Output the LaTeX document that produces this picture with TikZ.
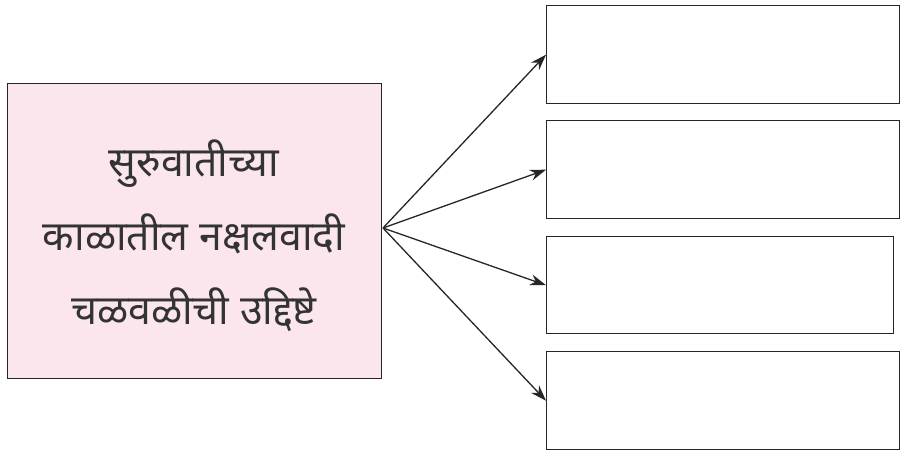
\documentclass[tikz,border=0pt]{standalone}
\usepackage{fontspec}
\newfontfamily\devfont[Script=Devanagari]{Noto Sans}
\usetikzlibrary{arrows.meta}
\tikzset{
  box/.style={draw=black!85, line width=1.4pt, anchor=north west, inner sep=0pt},
  arr/.style={-{Stealth[length=16pt,width=11pt]}, line width=1.3pt, draw=black!85}
}
\begin{document}
\begin{tikzpicture}[x=1pt,y=-1pt]
\useasboundingbox (0,0) rectangle (907,457);
\node[box, fill={rgb,255:red,251;green,230;blue,238}, minimum width=374pt, minimum height=295pt] (src) at (7,83) {};
\node[align=center, font=\devfont\fontsize{41}{74}\selectfont, text=black!80] (txt) at (194,236) {सुरुवातीच्या\\काळातील नक्षलवादी\\चळवळीची उद्दिष्टे};
\node[box, minimum width=353pt, minimum height=98pt] (b1) at (546,5) {};
\node[box, minimum width=353pt, minimum height=98pt] (b2) at (546,120) {};
\node[box, minimum width=347pt, minimum height=97pt] (b3) at (546,236) {};
\node[box, minimum width=353pt, minimum height=98pt] (b4) at (546,351) {};
\coordinate (o) at (383,228);
\draw[arr] (o) -- (b1.west);
\draw[arr] (o) -- (b2.west);
\draw[arr] (o) -- (b3.west);
\draw[arr] (o) -- (b4.west);
\end{tikzpicture}
\end{document}
